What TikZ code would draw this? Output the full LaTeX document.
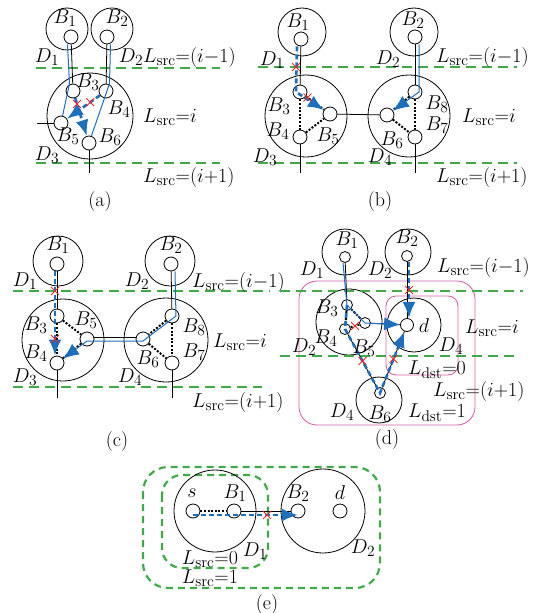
\RequirePackage{fix-cm}
\documentclass[tikz,border=0pt]{standalone}
\usepackage{tikz}
\usetikzlibrary{arrows.meta, calc, shapes.misc}
\definecolor{lvlgreen}{RGB}{64,170,72}
\definecolor{pathblue}{RGB}{30,110,190}
\definecolor{zonepink}{RGB}{214,100,170}
\definecolor{failred}{RGB}{235,40,40}
\DeclareMathSizes{20}{20}{15.5}{11}
\newcommand{\Lsrc}{L_{\mathrm{src}}}
\newcommand{\Ldst}{L_{\mathrm{dst}}}

\begin{document}
\begin{tikzpicture}[x=1pt, y=-1pt,
    every node/.style={font=\fontsize{20}{23}\selectfont},
    dom/.style={circle, draw, line width=0.8pt, inner sep=0pt},
    port/.style={circle, draw, fill=white, line width=0.8pt, minimum size=14pt, inner sep=0pt},
    sport/.style={port, minimum size=11pt},
    lbl/.style={inner sep=0pt},
    lvl/.style={draw=lvlgreen, line width=2.6pt, dash pattern=on 10pt off 6pt},
    zone/.style={draw=zonepink, line width=0.9pt, rounded corners=18pt},
    link/.style={line width=0.8pt},
    hop/.style={line width=2pt, dash pattern=on 2pt off 1.6pt},
    route/.style={draw=pathblue, line width=1pt},
    fail/.style={draw=pathblue, line width=2.6pt, dash pattern=on 5pt off 3pt},
    tip/.style={-{Latex[length=16pt, width=13pt]}},
    xmark/.style={cross out, draw=failred, line width=0.9pt, minimum size=7pt, inner sep=0pt}]
  \useasboundingbox (0,0) rectangle (537,613);

  % (a)
  \node[dom, minimum size=42pt] (a-D1) at (67,29) {};
  \node[dom, minimum size=42pt] (a-D2) at (112,29) {};
  \node[dom, minimum size=86pt] (a-D3) at (90,116) {};
  \draw[lvl] (36,68) -- (220,68);
  \draw[lvl] (36,163) -- (220,163);
  \node[port] (a-1) at (71,37) {};
  \node[port] (a-2) at (107,37) {};
  \node[port] (a-3) at (73,91) {};
  \node[port] (a-4) at (106,91) {};
  \node[port] (a-5) at (61,123) {};
  \node[port] (a-6) at (89,143) {};
  \coordinate (a-e1) at (37,123);
  \coordinate (a-e2) at (89,173);
  \draw[link] (a-1) -- (a-3);
  \draw[link] (a-2) -- (a-4);
  \draw[link] (a-5) -- (a-e1);
  \draw[link] (a-6) -- (a-e2);
  \draw[route] ([xshift=-3.5pt]a-1.south) -- ([xshift=-3.5pt]a-3.north) -- (a-5);
  \draw[route] ([xshift=3.5pt]a-2.south) -- ([xshift=3.5pt]a-4.north) -- (a-6);
  \draw[fail, tip] (a-3) -- (a-6);
  \draw[fail, tip] (a-4) -- (a-5);
  \node[xmark] (a-x1) at ($(a-3)!0.25!(a-6)$) {};
  \node[xmark] (a-x2) at ($(a-4)!0.35!(a-5)$) {};
  \node[lbl] (a-t1) at (65,18) {$B_1$};
  \node[lbl] (a-t2) at (117,18) {$B_2$};
  \node[lbl] (a-t3) at (88,82) {$B_3$};
  \node[lbl] (a-t4) at (119,109) {$B_4$};
  \node[lbl] (a-t5) at (68,136) {$B_5$};
  \node[lbl] (a-t6) at (110,137) {$B_6$};
  \node[lbl] (a-t7) at (47,57) {$D_1$};
  \node[lbl] (a-t8) at (131,57) {$D_2$};
  \node[lbl] (a-t9) at (47,155) {$D_3$};
  \node[lbl, anchor=west] (a-l1) at (143,57) {$\Lsrc{=}(i{-}1)$};
  \node[lbl, anchor=west] (a-l2) at (143,117) {$\Lsrc{=}i$};
  \node[lbl, anchor=west] (a-l3) at (143,177) {$\Lsrc{=}(i{+}1)$};
  \node[lbl] (a-cap) at (100,202) {(a)};

  % (b)
  \node[dom, minimum size=48pt] (b-D1) at (302,32) {};
  \node[dom, minimum size=48pt] (b-D2) at (414,32) {};
  \node[dom, minimum size=82pt] (b-D3) at (306,116) {};
  \node[dom, minimum size=82pt] (b-D4) at (409,116) {};
  \draw[lvl] (258,67) -- (517,67);
  \draw[lvl] (258,163) -- (517,163);
  \node[port] (b-1) at (301,39) {};
  \node[port] (b-2) at (415,37) {};
  \node[port] (b-3) at (300,92) {};
  \node[port] (b-5) at (330,114) {};
  \node[port] (b-4) at (300,137) {};
  \node[port] (b-6) at (387,115) {};
  \node[port] (b-8) at (415,92) {};
  \node[port] (b-7) at (415,137) {};
  \coordinate (b-e1) at (300,173);
  \coordinate (b-e2) at (415,173);
  \draw[link] (b-1) -- (b-3);
  \draw[link] (b-2) -- (b-8);
  \draw[link] (b-5) -- (b-6);
  \draw[link] (b-4) -- (b-e1);
  \draw[link] (b-7) -- (b-e2);
  \draw[hop] (b-3) -- (b-4);
  \draw[hop] (b-4) -- (b-5);
  \draw[hop] (b-3) -- (b-5);
  \draw[hop] (b-8) -- (b-7);
  \draw[hop] (b-6) -- (b-7);
  \draw[hop] (b-8) -- (b-6);
  \draw[route, tip] ([xshift=4pt]b-2.south) -- ([xshift=4pt]b-8.center) -- (b-6);
  \draw[fail, tip] ([xshift=-4pt]b-1.south) -- ([xshift=-4pt]b-3.center) -- (b-5);
  \node[xmark] (b-x1) at (296,67) {};
  \node[xmark] (b-x2) at ($(b-3)!0.25!(b-5)$) {};
  \node[lbl] (b-t1) at (298,22) {$B_1$};
  \node[lbl] (b-t2) at (413,20) {$B_2$};
  \node[lbl] (b-t3) at (279,106) {$B_3$};
  \node[lbl] (b-t4) at (278,131) {$B_4$};
  \node[lbl] (b-t5) at (328,136) {$B_5$};
  \node[lbl] (b-t6) at (392,140) {$B_6$};
  \node[lbl] (b-t7) at (437,125) {$B_7$};
  \node[lbl] (b-t8) at (437,104) {$B_8$};
  \node[lbl] (b-t9) at (272,60) {$D_1$};
  \node[lbl] (b-t10) at (388,59) {$D_2$};
  \node[lbl] (b-t11) at (265,157) {$D_3$};
  \node[lbl] (b-t12) at (380,157) {$D_4$};
  \node[lbl, anchor=west] (b-l1) at (436,57) {$\Lsrc{=}(i{-}1)$};
  \node[lbl, anchor=west] (b-l2) at (462,117) {$\Lsrc{=}i$};
  \node[lbl, anchor=west] (b-l3) at (436,177) {$\Lsrc{=}(i{+}1)$};
  \node[lbl] (b-cap) at (380,202) {(b)};

  % (c)
  \node[dom, minimum size=50pt] (c-D1) at (58,261) {};
  \node[dom, minimum size=50pt] (c-D2) at (170,261) {};
  \node[dom, minimum size=82pt] (c-D3) at (63,340) {};
  \node[dom, minimum size=84pt] (c-D4) at (166,340) {};
  \draw[lvl] (13,291) -- (270,291);
  \draw[lvl] (13,387) -- (262,387);
  \node[port] (c-1) at (57,264) {};
  \node[port] (c-2) at (171,264) {};
  \node[port] (c-3) at (57,316) {};
  \node[port] (c-5) at (87,339) {};
  \node[port] (c-4) at (57,363) {};
  \node[port] (c-6) at (143,339) {};
  \node[port] (c-8) at (172,316) {};
  \node[port] (c-7) at (172,363) {};
  \coordinate (c-e1) at (57,398);
  \coordinate (c-e2) at (172,398);
  \draw[link] (c-1) -- (c-3);
  \draw[link] (c-2) -- (c-8);
  \draw[link] ([yshift=2pt]c-5.east) -- ([yshift=2pt]c-6.west);
  \draw[link] (c-4) -- (c-e1);
  \draw[link] (c-7) -- (c-e2);
  \draw[hop] (c-3) -- (c-5);
  \draw[hop] (c-3) -- (c-4);
  \draw[hop] (c-5) -- (c-4);
  \draw[hop] (c-8) -- (c-6);
  \draw[hop] (c-8) -- (c-7);
  \draw[hop] (c-6) -- (c-7);
  \draw[route, tip] ([xshift=4pt]c-2.south) -- ([xshift=4pt]c-8.center) -- ([yshift=-2pt]c-6.center)
    -- ([yshift=-2pt]c-5.center) -- (c-4);
  \draw[fail, tip] ([xshift=-2pt]c-1.south) -- ([xshift=-2pt]c-4.north);
  \node[xmark] (c-x1) at (55,291) {};
  \node[xmark] (c-x2) at (55,339) {};
  \node[lbl] (c-t1) at (58,245) {$B_1$};
  \node[lbl] (c-t2) at (171,245) {$B_2$};
  \node[lbl] (c-t3) at (36,325) {$B_3$};
  \node[lbl] (c-t4) at (36,353) {$B_4$};
  \node[lbl] (c-t5) at (86,320) {$B_5$};
  \node[lbl] (c-t6) at (148,359) {$B_6$};
  \node[lbl] (c-t7) at (194,352) {$B_7$};
  \node[lbl] (c-t8) at (194,327) {$B_8$};
  \node[lbl] (c-t9) at (25,281) {$D_1$};
  \node[lbl] (c-t10) at (137,281) {$D_2$};
  \node[lbl] (c-t11) at (25,377) {$D_3$};
  \node[lbl] (c-t12) at (130,377) {$D_4$};
  \node[lbl, anchor=west] (c-l1) at (192,282) {$\Lsrc{=}(i{-}1)$};
  \node[lbl, anchor=west] (c-l2) at (213,342) {$\Lsrc{=}i$};
  \node[lbl, anchor=west] (c-l3) at (192,402) {$\Lsrc{=}(i{+}1)$};
  \node[lbl] (c-cap) at (117,442) {(c)};

  % (d)
  \draw[zone] (299,281) rectangle (475,425);
  \draw[zone, rounded corners=10pt] (386,296) rectangle (458,375);
  \node[dom, minimum size=46pt] (d-D1) at (345,252) {};
  \node[dom, minimum size=46pt] (d-D2) at (408,252) {};
  \node[dom, minimum size=66pt] (d-D3) at (349,322) {};
  \node[dom, minimum size=54pt] (d-D4) at (414,325) {};
  \node[dom, minimum size=46pt] (d-D5) at (379,400) {};
  \draw[lvl] (280,291) -- (523,291);
  \draw[lvl] (280,356) -- (520,356);
  \node[sport] (d-1) at (345,257) {};
  \node[sport] (d-2) at (407,256) {};
  \node[sport] (d-3) at (347,305) {};
  \node[sport] (d-5) at (365,323) {};
  \node[sport] (d-4) at (345,329) {};
  \node[sport, minimum size=13pt] (d-d) at (407,325) {};
  \node[sport] (d-6) at (380,393) {};
  \draw[link] (d-1) -- (d-3);
  \draw[link] (d-2) -- (d-d);
  \draw[link] (d-5) -- (d-d);
  \draw[link] (d-4) -- (d-6);
  \draw[link] (d-6) -- (d-d);
  \draw[hop] (d-3) -- (d-5);
  \draw[hop] (d-3) -- (d-4);
  \draw[hop] (d-4) -- (d-5);
  \draw[route, tip] ([xshift=-2pt]d-1.south) -- (d-3.center) -- (d-5.center) -- (d-d);
  \draw[fail, tip] ([xshift=2pt]d-2.south) -- ([xshift=2pt]d-d.north);
  \draw[fail, tip] (d-3.center) -- (d-4.center) -- (d-6.center) -- (d-d);
  \node[xmark] (d-x1) at (409,290) {};
  \node[xmark] (d-x2) at ($(d-4)!0.5!(d-5)$) {};
  \node[xmark] (d-x3) at ($(d-4)!0.5!(d-6)$) {};
  \node[xmark] (d-x4) at ($(d-6)!0.5!(d-d)$) {};
  \node[lbl] (d-t1) at (347,240) {$B_1$};
  \node[lbl] (d-t2) at (407,238) {$B_2$};
  \node[lbl] (d-t3) at (327,308) {$B_3$};
  \node[lbl] (d-t4) at (326,338) {$B_4$};
  \node[lbl] (d-t5) at (364,348) {$B_5$};
  \node[lbl] (d-t6) at (380,414) {$B_6$};
  \node[lbl] (d-t7) at (424,326) {$d$};
  \node[lbl] (d-t8) at (312,270) {$D_1$};
  \node[lbl] (d-t9) at (380,270) {$D_2$};
  \node[lbl] (d-t10) at (304,347) {$D_2$};
  \node[lbl] (d-t11) at (451,346) {$D_4$};
  \node[lbl] (d-t12) at (342,412) {$D_4$};
  \node[lbl, anchor=west] (d-l1) at (437,267) {$\Lsrc{=}(i{-}1)$};
  \node[lbl, anchor=west] (d-l2) at (465,328) {$\Lsrc{=}i$};
  \node[lbl, anchor=west] (d-l3) at (433,391) {$\Lsrc{=}(i{+}1)$};
  \node[lbl, anchor=west] (d-l4) at (408,370) {$\Ldst{=}0$};
  \node[lbl, anchor=west] (d-l5) at (408,413) {$\Ldst{=}1$};
  \node[lbl] (d-cap) at (387,440) {(d)};

  % (e)
  \draw[lvl, line width=2.2pt, dash pattern=on 7pt off 5pt, rounded corners=25pt] (143,467) rectangle (380,588);
  \draw[lvl, line width=2.2pt, dash pattern=on 7pt off 5pt, rounded corners=20pt] (162,475) rectangle (268,568);
  \node[dom, minimum size=82pt] (e-D1) at (215,511) {};
  \node[dom, minimum size=84pt] (e-D2) at (323,511) {};
  \node[port] (e-s) at (193,511) {};
  \node[port] (e-1) at (234,511) {};
  \node[port] (e-2) at (298,511) {};
  \node[port] (e-d) at (340,511) {};
  \draw[hop] (e-s) -- (e-1);
  \draw[link] (e-1) -- (e-2);
  \draw[fail, tip] ([yshift=-4pt]e-s.center) -- ([yshift=-4pt]e-2.center);
  \node[xmark] (e-x1) at (267,515) {};
  \node[lbl] (e-t1) at (192,493) {$s$};
  \node[lbl] (e-t2) at (235,493) {$B_1$};
  \node[lbl] (e-t3) at (298,493) {$B_2$};
  \node[lbl] (e-t4) at (340,493) {$d$};
  \node[lbl] (e-t5) at (255,551) {$D_1$};
  \node[lbl] (e-t6) at (363,548) {$D_2$};
  \node[lbl] (e-l1) at (210,559) {$\Lsrc{=}0$};
  \node[lbl] (e-l2) at (210,578) {$\Lsrc{=}1$};
  \node[lbl] (e-cap) at (267,605) {(e)};
\end{tikzpicture}
\end{document}
